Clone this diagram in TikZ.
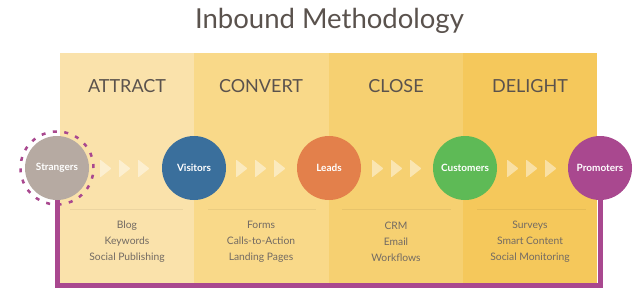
\documentclass[tikz,border=0pt]{standalone}
\usepackage{fontspec}
\setmainfont{Lato}
\usetikzlibrary{calc}
\definecolor{pA}{HTML}{FAE2AB}
\definecolor{pB}{HTML}{F9D989}
\definecolor{pC}{HTML}{F6D071}
\definecolor{pD}{HTML}{F5C85B}
\definecolor{cS}{HTML}{B6AAA2}
\definecolor{cV}{HTML}{3A6F9C}
\definecolor{cL}{HTML}{E3804B}
\definecolor{cC}{HTML}{5EBA56}
\definecolor{cP}{HTML}{A9488F}
\definecolor{ttl}{HTML}{5A524D}
\definecolor{itm}{HTML}{726A63}
\tikzset{
  panel/.style={fill=#1,draw=none},
  stage/.style={circle,fill=#1,minimum size=64pt,inner sep=0pt,text=white,font=\bfseries\fontsize{10}{12}\selectfont},
  head/.style={text=ttl,font=\fontsize{18}{21}\selectfont},
  items/.style={text=itm,align=center,font=\fontsize{10.3}{16}\selectfont},
  chev/.style={fill=white,fill opacity=0.45,draw=none,rounded corners=0.8pt},
  sep/.style={draw=black,draw opacity=0.06,line width=1pt},
  loop/.style={draw=cP,line width=5pt}
}
\newcommand{\chevs}[1]{%
  \foreach \dx in {0,19,38}{\fill[chev] (#1+\dx,159.5) -- (#1+\dx+11.5,168.5) -- (#1+\dx,177.5) -- cycle;}}
\begin{document}
\begin{tikzpicture}[x=1pt,y=-1pt]
\path[use as bounding box,fill=white] (0,0) rectangle (640,298);
\node[text=ttl,font=\fontsize{27.5}{32}\selectfont] (title) at (329.5,21) {Inbound Methodology};
\fill[panel=pA] (60,53) rectangle (194,283);
\fill[panel=pB] (194,53) rectangle (329,283);
\fill[panel=pC] (329,53) rectangle (463,283);
\fill[panel=pD] (463,53) rectangle (597,283);
\node[head] (h1) at (127,86) {ATTRACT};
\node[head] (h2) at (261,86) {CONVERT};
\node[head] (h3) at (396,86) {CLOSE};
\node[head] (h4) at (530,86) {DELIGHT};
\foreach \a/\b in {70/183,208/316,342/451,477/586}{\draw[sep] (\a,209) -- (\b,209);}
\chevs{100}\chevs{236}\chevs{372}\chevs{507}
\draw[loop] (57,196) -- (57,285) -- (600,285) -- (600,196);
\node[stage=cS] (s) at (57,168) {Strangers};
\draw[cP,line width=2.5pt,dash pattern=on 4pt off 7.5pt] (s.center) circle (36.5pt);
\node[stage=cV] (v) at (194,168) {Visitors};
\node[stage=cL] (l) at (329,168) {Leads};
\node[stage=cC] (c) at (465,168) {Customers};
\node[stage=cP] (p) at (600,168) {Promoters};
\node[items] (i1) at (127,242) {Blog\\Keywords\\Social Publishing};
\node[items] (i2) at (261,242) {Forms\\Calls-to-Action\\Landing Pages};
\node[items] (i3) at (396,242) {CRM\\Email\\Workflows};
\node[items] (i4) at (530,242) {Surveys\\Smart Content\\Social Monitoring};
\end{tikzpicture}
\end{document}
